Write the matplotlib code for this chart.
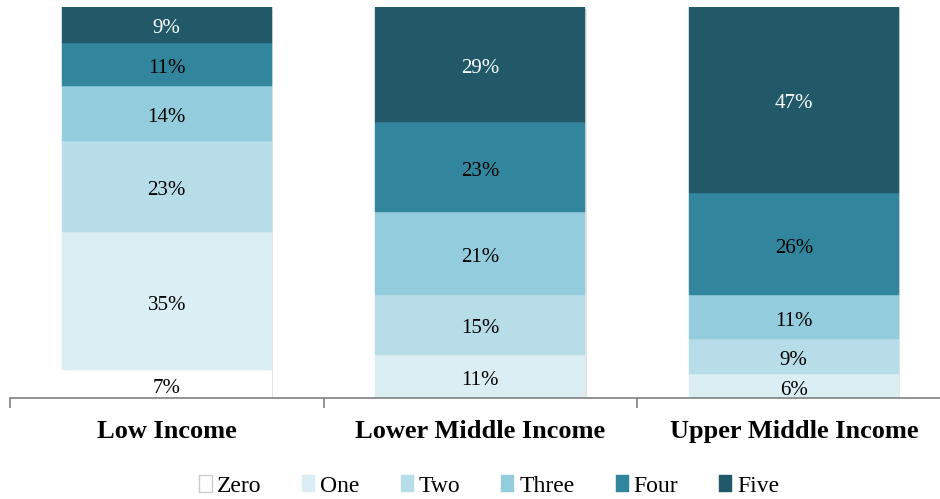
import matplotlib
matplotlib.use("Agg")
from matplotlib import pyplot as plt
import matplotlib.patheffects as pe
import numpy as np

plt.rcParams['font.family'] = ['Liberation Serif', 'DejaVu Serif']

categories = ['Low Income', 'Lower Middle Income', 'Upper Middle Income']
series = ['Zero', 'One', 'Two', 'Three', 'Four', 'Five']
colors = ['#FFFFFF', '#DAEEF3', '#B7DDE8', '#93CDDD', '#31859C', '#215968']
text_colors = ['black', 'black', 'black', 'black', 'black', 'white']

zero = [7, 0, 0]
one = [35, 11, 6]
two = [23, 15, 9]
three = [14, 21, 11]
four = [11, 23, 26]
five = [9, 29, 47]

data = np.array([zero, one, two, three, four, five], dtype=float)
# shares shown are rounded, scale each bar to 100
shares = data / data.sum(axis=0) * 100

fig = plt.figure(figsize=(9.4, 4.99), dpi=100)
ax = fig.add_axes([10 / 940, 101 / 499, 940.5 / 940, 391 / 499])

x = np.arange(len(categories))
w = 0.67

# background bar carrying the soft shadow
ax.bar(x, [100] * 3, w, color='white', zorder=1,
       path_effects=[pe.SimplePatchShadow(offset=(1.2, -1.2), shadow_rgbFace='#BBBBBB', alpha=0.4), pe.Normal()])

bottom = np.zeros(3)
for i in range(len(series)):
    ax.bar(x, shares[i], w, bottom=bottom, color=colors[i], label=series[i], zorder=2,
           edgecolor=colors[i] if i > 0 else '#DDDDDD', linewidth=0.3 if i > 0 else 0)
    for j in range(3):
        if data[i][j] > 0:
            ax.text(x[j], bottom[j] + shares[i][j] / 2 - 0.4, '%d%%' % data[i][j], ha='center',
                    va='center_baseline', fontsize=15, color=text_colors[i], zorder=3)
    bottom += shares[i]

ax.set_xlim(-0.5, 2.5)
ax.set_ylim(0, 100)
for s in ['top', 'right', 'left']:
    ax.spines[s].set_visible(False)
ax.spines['bottom'].set_color('#808080')
ax.spines['bottom'].set_linewidth(1.2)
ax.set_yticks([])
ax.set_xticks(x)
ax.set_xticklabels(categories, fontsize=19, fontweight='bold')
ax.tick_params(axis='x', which='major', length=0, pad=16)
ax.set_xticks([-0.5, 0.5, 1.5, 2.5], minor=True)
ax.tick_params(axis='x', which='minor', length=7, color='#808080', width=1.2)

handles, labels = ax.get_legend_handles_labels()
leg = fig.legend(handles, labels, loc='center', bbox_to_anchor=(489 / 940, 0.026), ncol=6, frameon=False,
                 fontsize=17, handlelength=0.55, handleheight=0.7, handletextpad=0.2, columnspacing=1.75)
leg.legend_handles[0].set_edgecolor('#CCCCCC')
leg.legend_handles[0].set_linewidth(1.0)

fig.savefig('out.png', dpi=100)
